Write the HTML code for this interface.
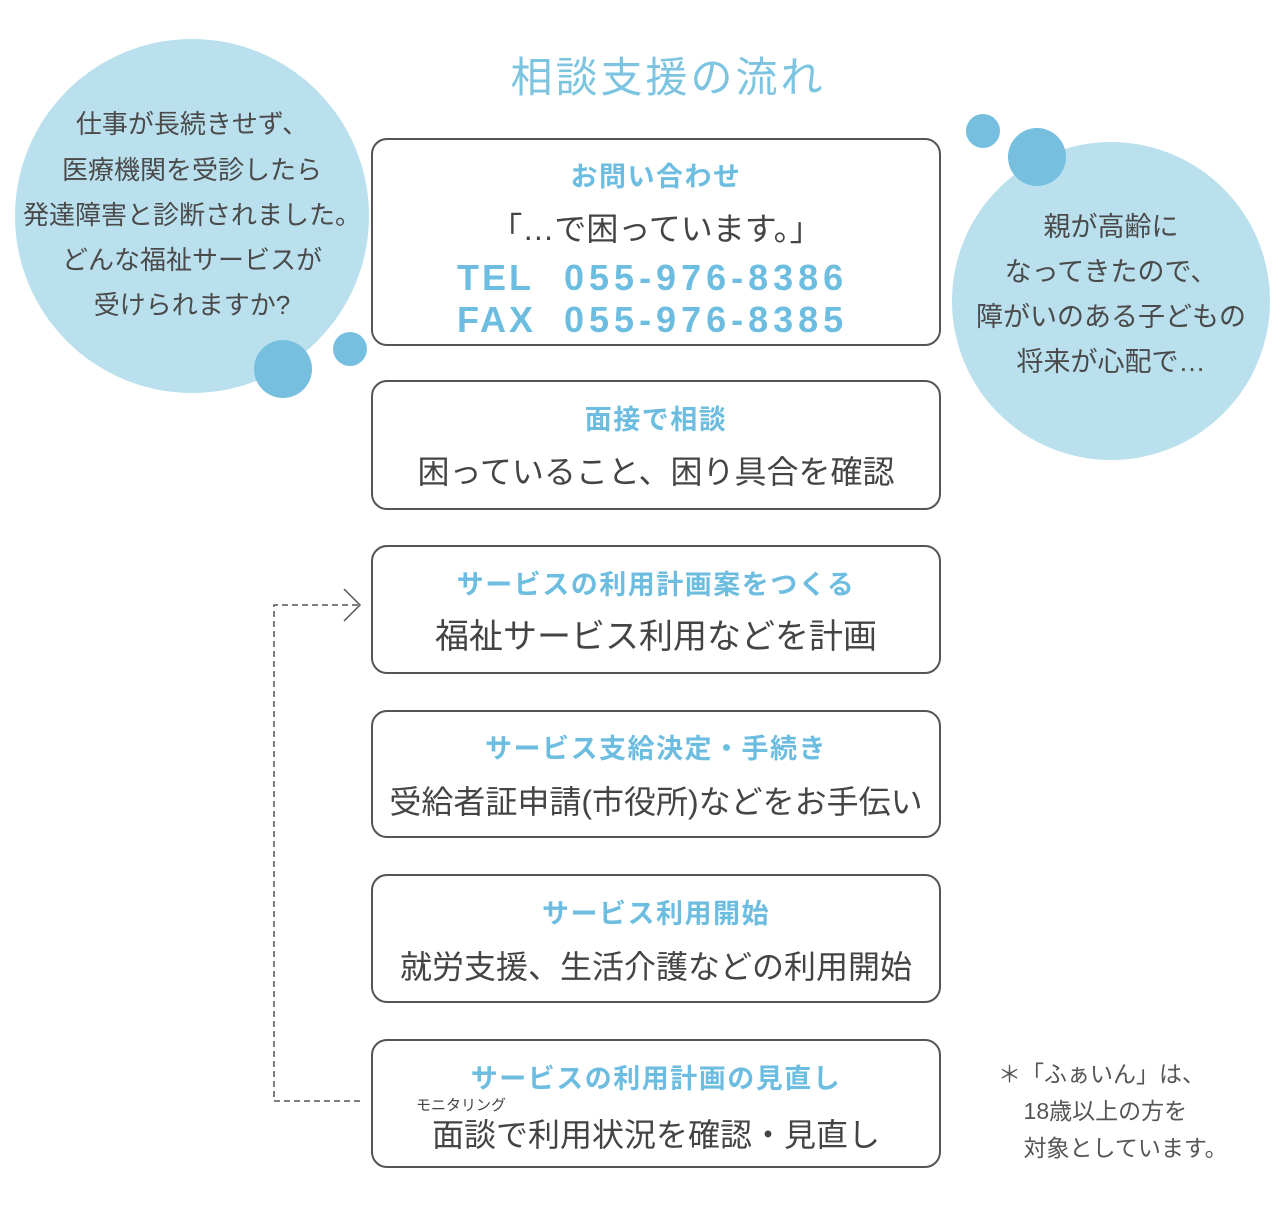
<!DOCTYPE html>
<html><head><meta charset="utf-8"><style>
body{margin:0;width:1286px;height:1232px;background:#fff;position:relative;overflow:hidden;font-family:"Liberation Sans","Noto Sans CJK JP",sans-serif;}
.a{position:absolute;}
.c{position:absolute;border-radius:50%;}
.box{position:absolute;left:371px;width:566px;border:2px solid #555;border-radius:16px;background:#fff;}
.t{position:absolute;left:0;right:0;text-align:center;white-space:nowrap;line-height:1;}
.bl{color:#6dbde0;font-size:27px;font-weight:bold;letter-spacing:1.5px;}
.dk{color:#444;font-size:32px;}
.bt{position:absolute;left:0;right:0;text-align:center;color:#4a4a4a;font-size:26px;line-height:1;white-space:nowrap;}
</style></head><body>
<div class="c" style="left:15px;top:39px;width:354px;height:354px;background:#bae0ee"></div>
<div class="c" style="left:254px;top:340px;width:58px;height:58px;background:#76bfdf"></div>
<div class="c" style="left:333px;top:332px;width:34px;height:34px;background:#76bfdf"></div>
<div class="c" style="left:952px;top:142px;width:318px;height:318px;background:#bae0ee"></div>
<div class="c" style="left:1008px;top:128px;width:58px;height:58px;background:#76bfdf"></div>
<div class="c" style="left:966px;top:114px;width:34px;height:34px;background:#76bfdf"></div>

<div class="a" style="left:15px;width:354px;top:0;height:400px">
<div class="bt" style="top:111px">仕事が長続きせず、</div>
<div class="bt" style="top:157px">医療機関を受診したら</div>
<div class="bt" style="top:202px">発達障害と診断されました。</div>
<div class="bt" style="top:247px">どんな福祉サービスが</div>
<div class="bt" style="top:292px">受けられますか?</div>
</div>
<div class="a" style="left:952px;width:318px;top:0;height:460px">
<div class="bt" style="top:214px;font-size:27px">親が高齢に</div>
<div class="bt" style="top:259px;font-size:27px">なってきたので、</div>
<div class="bt" style="top:304px;font-size:27px">障がいのある子どもの</div>
<div class="bt" style="top:349px;font-size:27px">将来が心配で…</div>
</div>

<div class="a" style="left:370px;width:596px;top:57px;text-align:center;color:#7cc4e0;font-size:42px;letter-spacing:3px;line-height:1">相談支援の流れ</div>

<div class="box" style="top:138px;height:204px">
<div class="t bl" style="top:24px">お問い合わせ</div>
<div class="t dk" style="top:73px">「…で困っています。」</div>
<div class="a" style="left:84px;top:120px;color:#6dbde0;font-size:36px;font-weight:bold;letter-spacing:3px;line-height:1;white-space:nowrap">TEL</div>
<div class="a" style="left:191px;top:120px;color:#6dbde0;font-size:36px;font-weight:bold;letter-spacing:5px;line-height:1;white-space:nowrap">055-976-8386</div>
<div class="a" style="left:84px;top:162px;color:#6dbde0;font-size:36px;font-weight:bold;letter-spacing:3px;line-height:1;white-space:nowrap">FAX</div>
<div class="a" style="left:191px;top:162px;color:#6dbde0;font-size:36px;font-weight:bold;letter-spacing:5px;line-height:1;white-space:nowrap">055-976-8385</div>
</div>

<div class="box" style="top:380px;height:126px">
<div class="t bl" style="top:25px">面接で相談</div>
<div class="t dk" style="top:74px">困っていること、困り具合を確認</div>
</div>
<div class="box" style="top:545px;height:125px">
<div class="t bl" style="top:25px">サービスの利用計画案をつくる</div>
<div class="t dk" style="top:73px;font-size:34px">福祉サービス利用などを計画</div>
</div>
<div class="box" style="top:710px;height:124px">
<div class="t bl" style="top:24px">サービス支給決定・手続き</div>
<div class="t dk" style="top:74px">受給者証申請(市役所)などをお手伝い</div>
</div>
<div class="box" style="top:874px;height:125px">
<div class="t bl" style="top:25px">サービス利用開始</div>
<div class="t dk" style="top:75px">就労支援、生活介護などの利用開始</div>
</div>
<div class="box" style="top:1039px;height:125px">
<div class="t bl" style="top:25px">サービスの利用計画の見直し</div>
<div class="a" style="left:43px;top:57px;font-size:15px;color:#444;line-height:1">モニタリング</div>
<div class="t dk" style="top:78px">面談で利用状況を確認・見直し</div>
</div>

<svg class="a" style="left:0;top:0" width="1286" height="1232">
<path d="M360 1101 H274 V605 H358" fill="none" stroke="#555" stroke-width="1.5" stroke-dasharray="6 4"/>
<path d="M344 589 L360 605 L344 621" fill="none" stroke="#555" stroke-width="1.5"/>
</svg>

<div class="a" style="left:998px;top:1056px;font-size:23px;color:#555;line-height:37px;white-space:nowrap">＊「ふぁいん」は、<br>&nbsp;&nbsp;&nbsp;&nbsp;18歳以上の方を<br>&nbsp;&nbsp;&nbsp;&nbsp;対象としています。</div>
</body></html>
